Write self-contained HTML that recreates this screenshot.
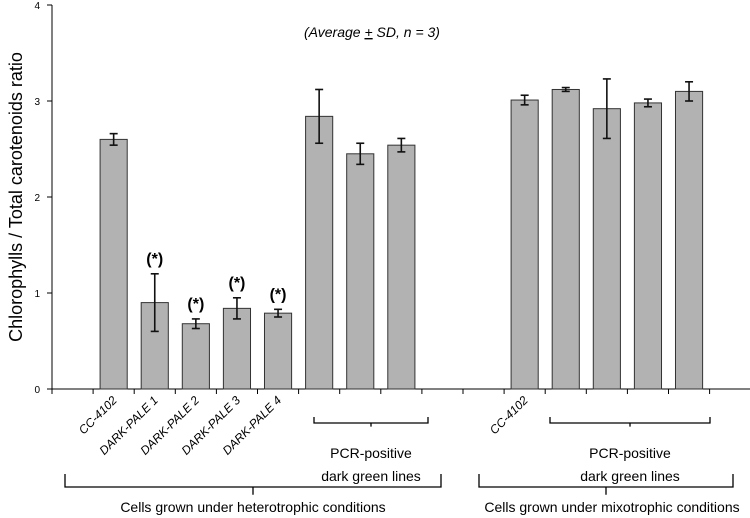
<!DOCTYPE html>
<html><head><meta charset="utf-8"><style>
body{margin:0;background:#fff}
svg{display:block;font-family:"Liberation Sans",sans-serif}
</style></head><body>
<svg id="c" width="750" height="518">
<text x="372" y="37" text-anchor="middle" font-size="14" font-style="italic">(Average <tspan text-decoration="underline">+</tspan> SD, n = 3)</text>
<text transform="translate(22,197) rotate(-90)" text-anchor="middle" font-size="18">Chlorophylls / Total carotenoids ratio</text>
<g id="axes"></g><g id="bars"></g><g id="labels"></g>
</svg>
<script>
const slots = [1,2,3,4,5,6,7,8,11,12,13,14,15];
const values = [2.6,0.9,0.68,0.84,0.79,2.84,2.45,2.54,3.01,3.12,2.92,2.98,3.10];
const errors = [0.06,0.3,0.05,0.11,0.04,0.28,0.11,0.07,0.05,0.02,0.31,0.04,0.10];
const stars = [false,true,true,true,true,false,false,false,false,false,false,false,false];
const yTicks = [0,1,2,3,4];
const catLabels = [[1,"CC-4102"],[2,"DARK-PALE 1"],[3,"DARK-PALE 2"],[4,"DARK-PALE 3"],[5,"DARK-PALE 4"],[11,"CC-4102"]];
const NS="http://www.w3.org/2000/svg";
const x0=52, slotW=41.1, y0=389, yU=96;
const X=s=>x0+slotW*s, Y=v=>y0-v*yU;
function mk(t,a,p,txt){const e=document.createElementNS(NS,t);for(const k in a)e.setAttribute(k,a[k]);if(txt!=null)e.textContent=txt;p.appendChild(e);return e;}
const ax=document.getElementById('axes'), bg=document.getElementById('bars'), lg=document.getElementById('labels');
let l=mk('line',{x1:x0,y1:Y(4),x2:x0,y2:y0,stroke:'#000'},ax);


l=mk('line',{x1:x0,y1:y0,x2:X(17),y2:y0,stroke:'#000'},ax);


yTicks.forEach(v=>{mk('line',{x1:x0-5,y1:Y(v),x2:x0,y2:Y(v),stroke:'#000'},ax);
 const t=mk('text',{x:x0-12,y:Y(v)+4,'text-anchor':'end','font-size':10},ax,String(v));
 
 });
for(let k=0;k<=17;k++)mk('line',{x1:X(k),y1:y0,x2:X(k),y2:y0+5,stroke:'#000'},ax);
const bw=slotW*0.66;
slots.forEach((s,i)=>{const cx=X(s+0.5);
 const r=mk('rect',{x:cx-bw/2,y:Y(values[i]),width:bw,height:y0-Y(values[i]),fill:'#b2b2b2',stroke:'#333','stroke-width':1},bg);
 
 
 const yt=Y(values[i]+errors[i]), yb=Y(values[i]-errors[i]);
 const g=mk('g',{stroke:'#111','stroke-width':1.6},bg);
 
 
 mk('line',{x1:cx,y1:yt,x2:cx,y2:yb},g);mk('line',{x1:cx-4,y1:yt,x2:cx+4,y2:yt},g);mk('line',{x1:cx-4,y1:yb,x2:cx+4,y2:yb},g);
 if(stars[i]){const t=mk('text',{x:cx,y:yt-10,'text-anchor':'middle','font-size':16,'font-weight':'bold'},bg,'(*)');
  
  }
});
catLabels.forEach(([s,txt])=>{const cx=X(s+0.5)+4;
 const t=mk('text',{transform:`translate(${cx},401) rotate(-45)`,'text-anchor':'end','font-size':12,'font-style':'italic'},lg,txt);
 
 });
function bracket(xa,xb,y,h,name){const c=(xa+xb)/2;
 const p=mk('path',{d:`M${xa},${y-h} V${y} H${xb} V${y-h} M${c},${y} V${y+h*0.6}`,fill:'none',stroke:'#000','stroke-width':1.3},lg);
 
 return c;}
function txt(x,y,s,n,fs){const t=mk('text',{x:x,y:y,'text-anchor':'middle','font-size':fs},lg,s);
 
 }
let c=bracket(314,428,423,6,'pcr-bracket-heterotrophic');
txt(c,458,'PCR-positive','group-label',14);txt(c,481,'dark green lines','group-label',14);
c=bracket(550,710,423,6,'pcr-bracket-mixotrophic');
txt(c,458,'PCR-positive','group-label',14);txt(c,481,'dark green lines','group-label',14);
c=bracket(65,441,487,13,'heterotrophic-bracket');
txt(253,512,'Cells grown under heterotrophic conditions','condition-label',14);
c=bracket(479,733,487,13,'mixotrophic-bracket');
txt(612,512,'Cells grown under mixotrophic conditions','condition-label',14);
</script>
</body></html>
